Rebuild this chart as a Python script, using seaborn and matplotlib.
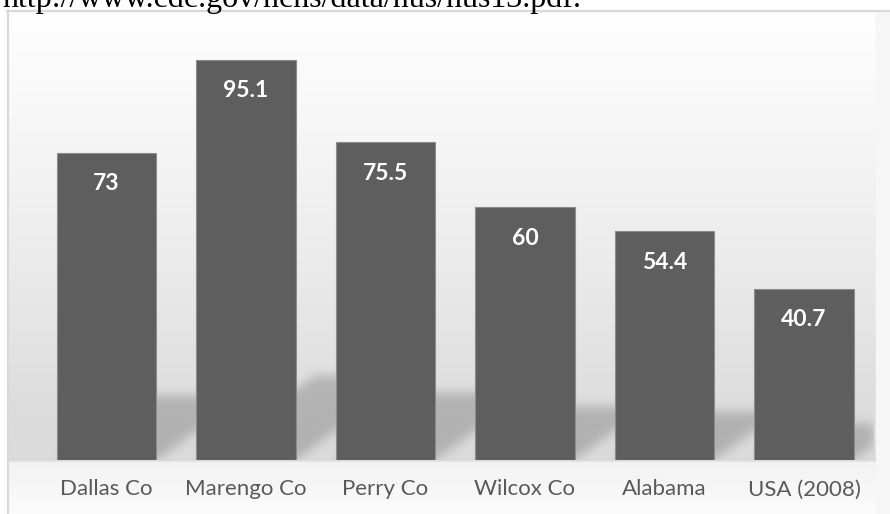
import numpy as np
import pandas as pd
import matplotlib
matplotlib.use("Agg")
import matplotlib.pyplot as plt
from matplotlib.lines import Line2D
import seaborn as sns

categories = ["Dallas Co", "Marengo Co", "Perry Co", "Wilcox Co", "Alabama", "USA (2008)"]
values = [73, 95.1, 75.5, 60, 54.4, 40.7]
value_labels = ["73", "95.1", "75.5", "60", "54.4", "40.7"]
source_text = "http://www.cdc.gov/nchs/data/hus/hus13.pdf."

W, H = 890, 514
DPI = 100
sns.set_theme(style="white")
plt.rcParams["font.family"] = ["Lato", "DejaVu Sans"]

fig = plt.figure(figsize=(W / DPI, H / DPI), dpi=DPI)
fig.patch.set_facecolor("white")

# ---- background gradient (figure pixel space) ----
bg = fig.add_axes([0, 0, 1, 1], zorder=0)
bg.set_xlim(0, W)
bg.set_ylim(H, 0)
bg.axis("off")
rows = np.arange(H)
stops_y = [10, 40, 150, 300, 400, 459, 461, 514]
stops_c = [254, 252, 244, 231, 221, 218, 242, 252]
gray = np.interp(rows, stops_y, stops_c) / 255.0
img = np.repeat(gray[:, None], 2, axis=1)
rgb = np.dstack([img, img, img])
bg.imshow(rgb, extent=[9, 876, H, 10], aspect="auto", interpolation="bilinear", zorder=0)
bg.add_patch(plt.Rectangle((876, 10), W - 876, H - 10, color="#f6f6f6", zorder=0))
# chart frame
bg.add_line(Line2D([7.5, 7.5], [10, H], color="#d9d9d9", lw=1.6, zorder=3))
bg.add_line(Line2D([7, W], [10.5, 10.5], color="#d9d9d9", lw=1.6, zorder=3))
bg.text(3, 6.5, source_text, family=["Liberation Serif", "DejaVu Serif"],
        fontsize=23, color="black", va="baseline", ha="left", zorder=3)

# ---- main axes ----
ax_left, ax_right = 36.75, 873.75
ax_bottom, ax_top = 460, 39
ax = fig.add_axes([ax_left / W, (H - ax_bottom) / H,
                   (ax_right - ax_left) / W, (ax_bottom - ax_top) / H], zorder=1)
ax.patch.set_visible(False)

df = pd.DataFrame({"category": categories, "value": values})
bar_w = 0.71
sns.barplot(data=df, x="category", y="value", color="#5e5e5e", saturation=1,
            width=bar_w, edgecolor="#8c8c8c", linewidth=0.8, ax=ax, zorder=3)
ax.set_xlim(-0.5, len(categories) - 0.5)
ax.set_ylim(0, 100)

# ---- soft perspective shadows behind bars ----
px_x = (ax_right - ax_left) / len(categories)
px_y = (ax_bottom - ax_top) / 100.0
ymax_sh = 30
nx = int(ax_right - ax_left)
ny = int(ymax_sh * px_y)
xs = np.linspace(-0.5, len(categories) - 0.5, nx)
ys = np.linspace(0, ymax_sh, ny)
XX, YY = np.meshgrid(xs, ys)
mask = np.zeros_like(XX)
for i, v in enumerate(values):
    hs = 0.21 * v
    d = 1.4 * hs * px_y / px_x
    shift = d * YY / hs
    inside = (YY <= hs) & (XX >= i - bar_w / 2 + shift) & (XX <= i + bar_w / 2 + shift)
    mask = np.maximum(mask, inside.astype(float))
sig = 5.0
k = np.arange(-15, 16)
kern = np.exp(-k ** 2 / (2 * sig ** 2))
kern /= kern.sum()
pad = 20
mp = np.pad(mask, pad, mode="constant")
mp = np.apply_along_axis(lambda r: np.convolve(r, kern, mode="same"), 1, mp)
mp = np.apply_along_axis(lambda c: np.convolve(c, kern, mode="same"), 0, mp)
mask = mp[pad:-pad, pad:-pad]
rgba = np.zeros((ny, nx, 4))
rgba[..., 3] = mask * 0.19
ax.imshow(rgba, extent=[-0.5, len(categories) - 0.5, 0, ymax_sh], origin="lower",
          aspect="auto", zorder=1, interpolation="bilinear")
ax.set_xlim(-0.5, len(categories) - 0.5)
ax.set_ylim(0, 100)

# ---- value labels ----
for i, (v, lab) in enumerate(zip(values, value_labels)):
    ax.text(i, v - 7.4, lab, ha="center", va="center", color="white",
            fontsize=16.5, fontweight="bold", zorder=4)

ax.set_xlabel("")
ax.set_ylabel("")
ax.set_yticks([])
ax.tick_params(axis="x", length=0, pad=14, labelsize=16, labelcolor="#595959")
for s in ax.spines.values():
    s.set_visible(False)

fig.savefig("out.png", dpi=DPI)
